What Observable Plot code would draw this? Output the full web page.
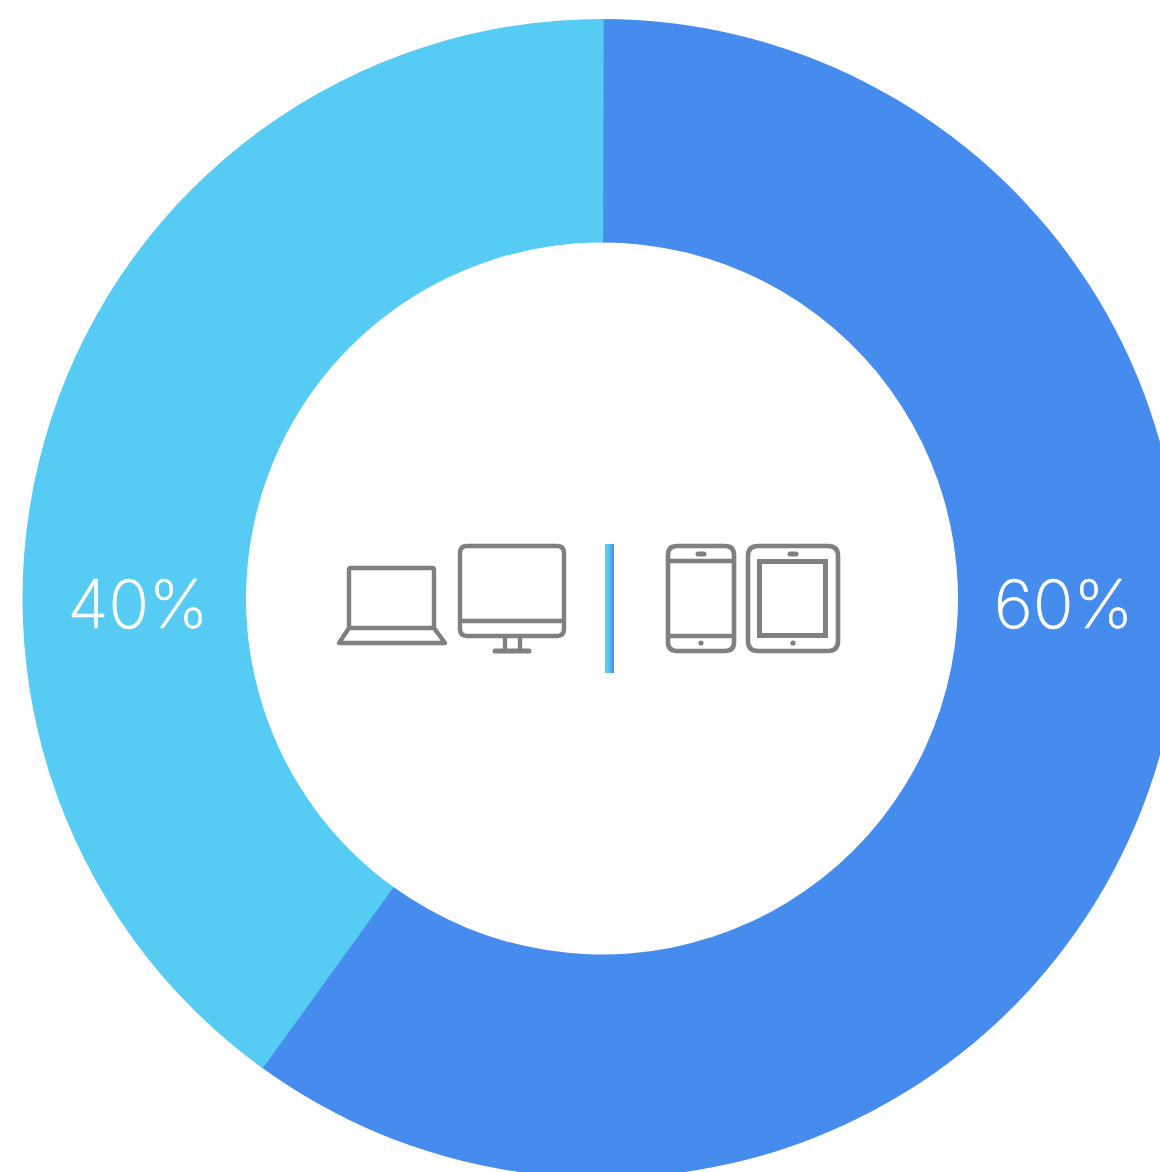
<!DOCTYPE html>
<html>
<head>
<meta charset="utf-8">
<script src="https://cdn.jsdelivr.net/npm/d3@7"></script>
<script src="https://cdn.jsdelivr.net/npm/@observablehq/plot@0.6"></script>
<style>
html,body{margin:0;padding:0;background:#fff;overflow:hidden}
svg{display:block}
</style>
</head>
<body>
<div id="chart"></div>
<script>
const categories = ["Mobile", "Desktop"];
const shares = [60, 40];
const labels = ["60%", "40%"];
const colors = ["#458CEE", "#56CBF3"];
const iconColor = "#808080";

const cx = 602, cy = 598.5, outerR = 579.5, innerR = 356;
const seamOverlap = 0.003;

const pie = d3.pie().sort(null).value(d => d)(shares);

const donut = (index, {x, y}) => {
  const arc = d3.arc().innerRadius(innerR).outerRadius(outerR);
  const g = d3.create("svg:g").attr("aria-label", "donut");
  pie.forEach((s, i) => {
    const slice = i === 1
      ? {...s, startAngle: s.startAngle - seamOverlap, endAngle: s.endAngle + seamOverlap}
      : s;
    g.append("path")
      .attr("aria-label", categories[i])
      .attr("transform", `translate(${x(cx)},${y(cy)})`)
      .attr("d", arc(slice))
      .attr("fill", colors[i]);
  });
  return g.node();
};

const icons = [
  // laptop
  {d: "M349 628V570q0-2 2-2H432q2 0 2 2V628Z M349 628L339 643H445L434 628", w: 4.4, join: "round"},
  // desktop
  {d: "M467 546H557q7 0 7 7V629q0 7-7 7H467q-7 0-7-7V553q0-7 7-7Z M460 621H564 M505 636V651 M520 636V651", w: 4.4, join: "round"},
  {d: "M495 651H529", w: 5, join: "round"},
  // phone
  {d: "M677 546H725q9 0 9 9V642q0 9-9 9H677q-9 0-9-9V555q0-9 9-9Z M668 561H734 M668 636H734", w: 4.6, join: "round"},
  {d: "M698 554H704", w: 5, join: "round"},
  {d: "M701 643h.01", w: 5.2, join: "round"},
  // tablet
  {d: "M758 546H828q10 0 10 10V641q0 10-10 10H758q-10 0-10-10V556q0-10 10-10Z", w: 4.6, join: "round"},
  {d: "M759.5 561.5H825.5V635.5H759.5Z", w: 5, join: "miter"},
  {d: "M790 554H796", w: 5, join: "round"},
  {d: "M793 643h.01", w: 5.2, join: "round"}
];

const iconMark = () => {
  const g = d3.create("svg:g").attr("aria-label", "device icons")
    .attr("fill", "none").attr("stroke", iconColor).attr("stroke-linecap", "round");
  icons.forEach(p => g.append("path").attr("d", p.d).attr("stroke-width", p.w).attr("stroke-linejoin", p.join));
  return g.node();
};

const gradient = () => {
  const svg = d3.create("svg:defs");
  const lg = svg.append("linearGradient").attr("id", "divider");
  lg.append("stop").attr("offset", "0%").attr("stop-color", colors[1]);
  lg.append("stop").attr("offset", "35%").attr("stop-color", colors[1]);
  lg.append("stop").attr("offset", "100%").attr("stop-color", colors[0]);
  return svg.node();
};

const table = categories.map((c, i) => ({category: c, share: shares[i], label: labels[i]}));

const plot = Plot.plot({
  width: 1160,
  height: 1172,
  margin: 0,
  x: {domain: [0, 1160], range: [0, 1160], axis: null},
  y: {domain: [0, 1172], range: [0, 1172], axis: null},
  style: {background: "#fff", overflow: "hidden"},
  marks: [
    gradient,
    donut,
    iconMark,
    Plot.rect([0], {x1: () => 605, x2: () => 614, y1: () => 544, y2: () => 673, fill: "url(#divider)"}),
    Plot.text(table, {
      x: d => d.category === "Mobile" ? 1063 : 137.5,
      y: () => 606,
      text: "label",
      fill: "#fff",
      stroke: "#fff",
      strokeWidth: 0.7,
      fontFamily: "Inter",
      fontWeight: 200,
      fontSize: 67,
      textAnchor: "middle"
    })
  ]
});
document.getElementById("chart").append(plot);
</script>
</body>
</html>
